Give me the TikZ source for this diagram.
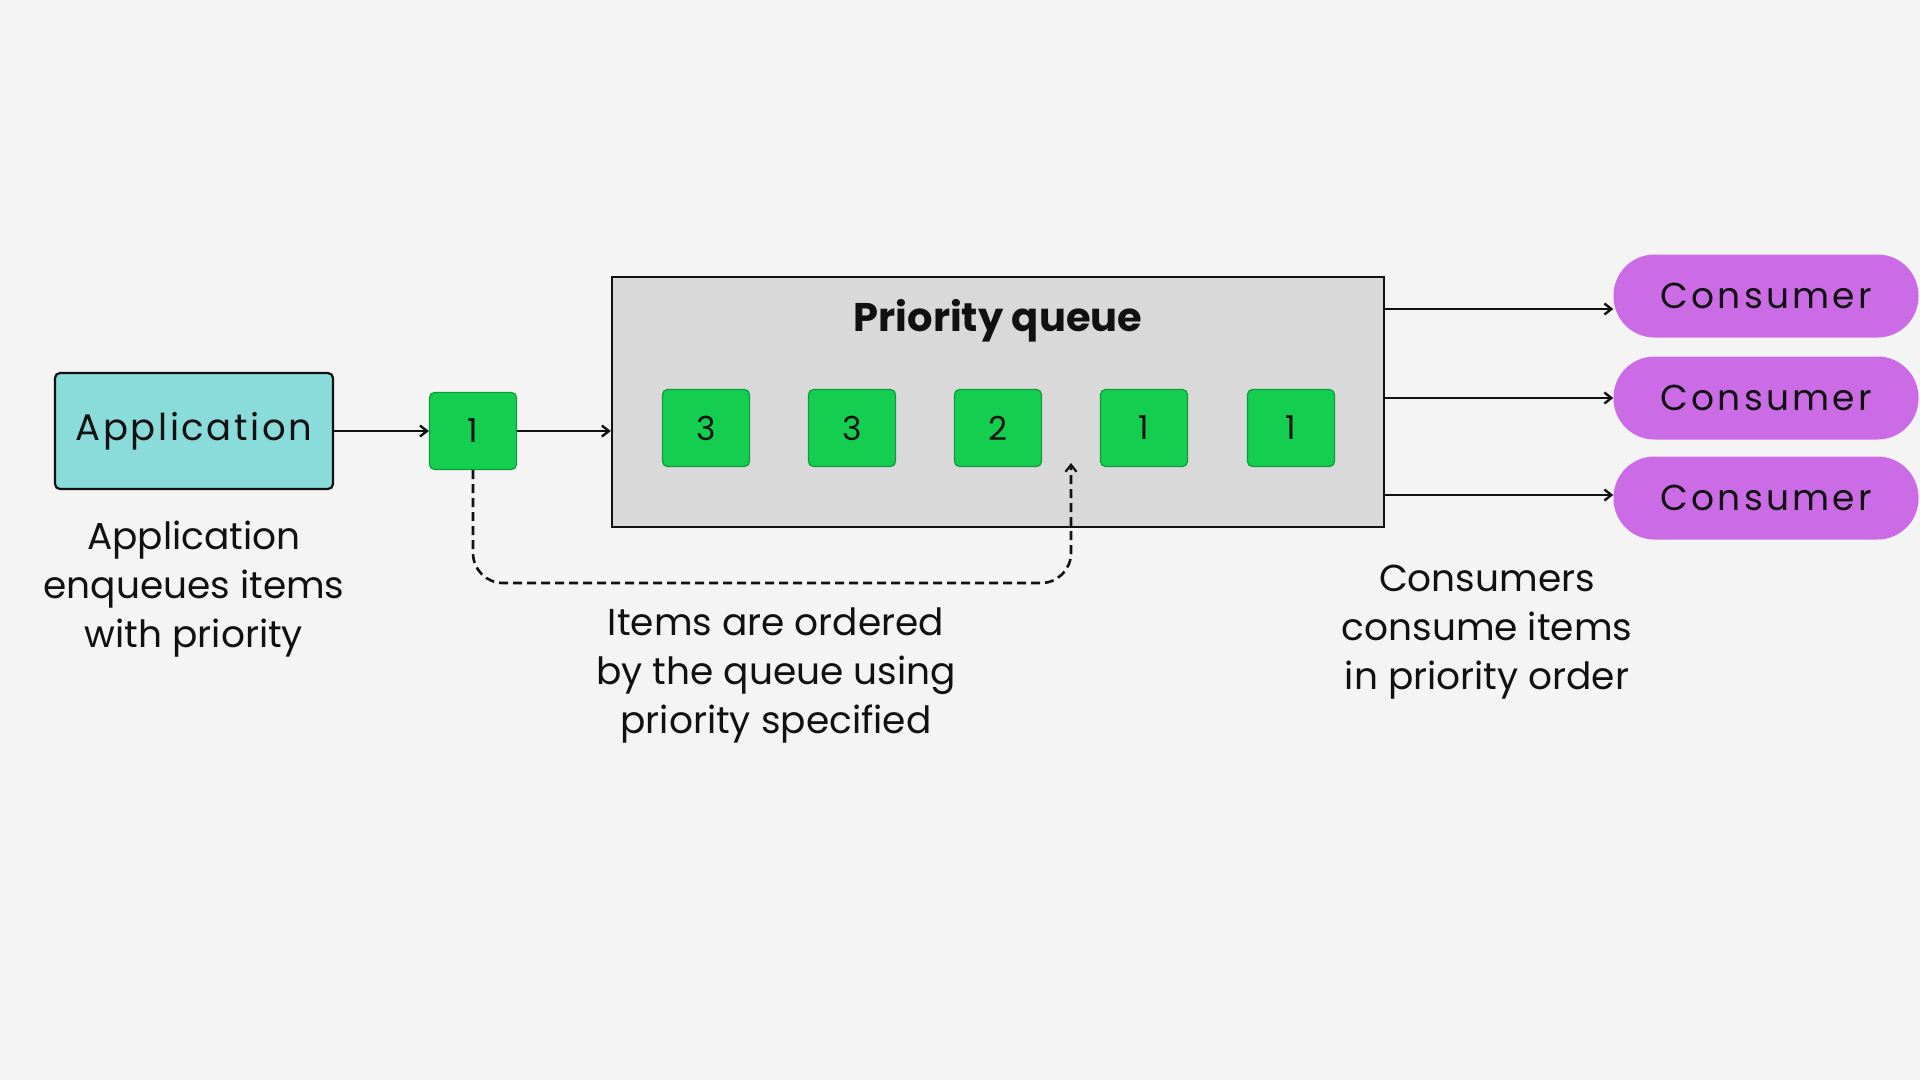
\documentclass[tikz,border=0pt]{standalone}
\usepackage{fontspec}
\setmainfont{Poppins}
\usetikzlibrary{arrows.meta}
\definecolor{bgc}{HTML}{F4F4F4}
\definecolor{appc}{HTML}{8ADCDA}
\definecolor{qc}{HTML}{D9D9D9}
\definecolor{itemc}{HTML}{14CF4F}
\definecolor{itemb}{HTML}{0E9A3A}
\definecolor{consc}{HTML}{CB6CE6}
\definecolor{ink}{HTML}{111111}
\begin{document}
\begin{tikzpicture}[x=1pt,y=-1pt,
  txt/.style={font=\fontsize{37.5}{49}\selectfont, text=ink, align=center},
  appbox/.style={draw=ink, line width=2.2pt, fill=appc, rounded corners=5pt,
    minimum width=278pt, minimum height=116pt, inner sep=0pt,
    font=\fontsize{37}{40}\selectfont\addfontfeature{LetterSpace=7}, text=ink},
  item/.style={draw=itemb, line width=1.2pt, fill=itemc, rounded corners=5pt,
    minimum width=87pt, minimum height=77pt, inner sep=0pt,
    font=\fontsize{33}{40}\selectfont, text=ink},
  queue/.style={draw=ink, line width=2.4pt, fill=qc, minimum width=772pt,
    minimum height=250pt, inner sep=0pt},
  cons/.style={fill=consc, rounded corners=41pt, minimum width=305pt,
    minimum height=83pt, inner sep=0pt,
    font=\fontsize{36}{40}\selectfont\addfontfeature{LetterSpace=9}, text=ink},
  arr/.style={draw=ink, line width=2.8pt, -{Straight Barb[length=7pt,width=11pt,line width=2.4pt]}},
  darr/.style={draw=ink, line width=2.6pt, dash pattern=on 9pt off 5pt,
    rounded corners=30pt, -{Straight Barb[length=7pt,width=11pt,line width=2.2pt]}}
]
\fill[bgc] (0,0) rectangle (1920,1080);
\useasboundingbox (0,0) rectangle (1920,1080);

\node[appbox] (app) at (194,431) {Application};
\node[txt] (appcap) at (194,589) {Application\\enqueues items\\with priority};

\node[item] (new) at (473,431) {1};

\node[queue] (q) at (998,402) {};
\node[font=\fontsize{40}{44}\selectfont\bfseries, text=ink] (qt) at (998,321) {Priority queue};

\node[item] (i1) at (706,428) {3};
\node[item] (i2) at (852,428) {3};
\node[item] (i3) at (998,428) {2};
\node[item] (i4) at (1144,428) {1};
\node[item] (i5) at (1291,428) {1};

\draw[arr] (app.east) -- (new.west);
\draw[arr] (new.east) -- (q.west |- new.east);

\coordinate (dend) at (1071,463);
\draw[darr] (new.south) -- (new.south |- 0,583) -- (dend |- 0,583) -- (dend);

\node[txt] (qcap) at (776,675) {Items are ordered\\by the queue using\\priority specified};

\node[cons] (c1) at (1766,296) {Consumer};
\node[cons] (c2) at (1766,398) {Consumer};
\node[cons] (c3) at (1766,498) {Consumer};

\draw[arr] (q.east |- 0,309) -- (c1.west |- 0,309);
\draw[arr] (q.east |- 0,398) -- (c2.west |- 0,398);
\draw[arr] (q.east |- 0,495) -- (c3.west |- 0,495);

\node[txt] (ccap) at (1487,632) {Consumers\\consume items\\in priority order};
\end{tikzpicture}
\end{document}
